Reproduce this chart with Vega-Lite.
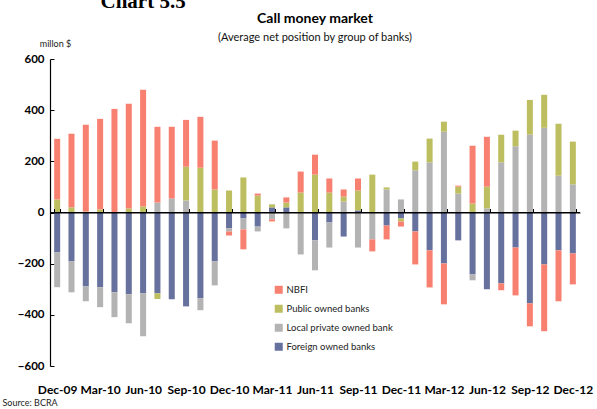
{
  "$schema": "https://vega.github.io/schema/vega-lite/v6.json",
  "width": 530,
  "height": 307,
  "autosize": {"type": "none"},
  "padding": {"left": 50, "top": 59, "right": 17, "bottom": 43},
  "background": "white",
  "config": {"view": {"stroke": null}, "font": "Lato"},
  "title": {
    "text": "Call money market",
    "subtitle": "(Average net position by group of banks)",
    "font": "Lato", "fontSize": 14, "fontWeight": "bold", "color": "black",
    "subtitleFont": "Lato", "subtitleFontSize": 11, "subtitleColor": "#111",
    "subtitlePadding": 6, "anchor": "middle", "offset": -53
  },
  "resolve": {"scale": {"y": "shared"}, "axis": {"y": "independent"}},
  "layer": [
    {
      "data": {"values": [
        {"m": "Dec-09", "Foreign owned banks": -156, "Local private owned bank": -136, "Public owned banks": 51, "NBFI": 237},
        {"m": "Jan-10", "Foreign owned banks": -191, "Local private owned bank": -121, "Public owned banks": 20, "NBFI": 288},
        {"m": "Feb-10", "Foreign owned banks": -289, "Local private owned bank": -58, "Public owned banks": 4, "NBFI": 339},
        {"m": "Mar-10", "Foreign owned banks": -292, "Local private owned bank": -78, "Public owned banks": 12, "NBFI": 354},
        {"m": "Apr-10", "Foreign owned banks": -312, "Local private owned bank": -97, "Public owned banks": 0, "NBFI": 405},
        {"m": "May-10", "Foreign owned banks": -320, "Local private owned bank": -113, "Public owned banks": 16, "NBFI": 409},
        {"m": "Jun-10", "Foreign owned banks": -316, "Local private owned bank": -168, "Public owned banks": 23, "NBFI": 457},
        {"m": "Jul-10", "Foreign owned banks": -316, "Local private owned bank": 39, "Public owned banks": -22, "NBFI": 296},
        {"m": "Aug-10", "Foreign owned banks": -339, "Local private owned bank": 55, "Public owned banks": 0, "NBFI": 280},
        {"m": "Sep-10", "Foreign owned banks": -367, "Local private owned bank": 47, "Public owned banks": 132, "NBFI": 183},
        {"m": "Oct-10", "Foreign owned banks": -335, "Local private owned bank": -47, "Public owned banks": 175, "NBFI": 199},
        {"m": "Nov-10", "Foreign owned banks": -191, "Local private owned bank": -94, "Public owned banks": 90, "NBFI": 191},
        {"m": "Dec-10", "Foreign owned banks": -62, "Local private owned bank": -12, "Public owned banks": 86, "NBFI": -16},
        {"m": "Jan-11", "Foreign owned banks": -23, "Local private owned bank": -43, "Public owned banks": 137, "NBFI": -78},
        {"m": "Feb-11", "Foreign owned banks": -55, "Local private owned bank": -19, "Public owned banks": 66, "NBFI": 8},
        {"m": "Mar-11", "Foreign owned banks": 20, "Local private owned bank": -27, "Public owned banks": 12, "NBFI": -8},
        {"m": "Apr-11", "Foreign owned banks": 20, "Local private owned bank": -62, "Public owned banks": 19, "NBFI": 20},
        {"m": "May-11", "Foreign owned banks": 0, "Local private owned bank": -164, "Public owned banks": 78, "NBFI": 82},
        {"m": "Jun-11", "Foreign owned banks": -109, "Local private owned bank": -117, "Public owned banks": 148, "NBFI": 78},
        {"m": "Jul-11", "Foreign owned banks": -39, "Local private owned bank": -98, "Public owned banks": 78, "NBFI": 55},
        {"m": "Aug-11", "Foreign owned banks": -94, "Local private owned bank": 43, "Public owned banks": 19, "NBFI": 28},
        {"m": "Sep-11", "Foreign owned banks": 8, "Local private owned bank": -137, "Public owned banks": 78, "NBFI": 47},
        {"m": "Oct-11", "Foreign owned banks": 0, "Local private owned bank": -105, "Public owned banks": 148, "NBFI": -47},
        {"m": "Nov-11", "Foreign owned banks": -51, "Local private owned bank": 90, "Public owned banks": 8, "NBFI": -54},
        {"m": "Dec-11", "Foreign owned banks": -23, "Local private owned bank": 51, "Public owned banks": -12, "NBFI": -20},
        {"m": "Jan-12", "Foreign owned banks": -74, "Local private owned bank": 165, "Public owned banks": 34, "NBFI": -129},
        {"m": "Feb-12", "Foreign owned banks": -148, "Local private owned bank": 196, "Public owned banks": 93, "NBFI": -145},
        {"m": "Mar-12", "Foreign owned banks": -199, "Local private owned bank": 316, "Public owned banks": 39, "NBFI": -160},
        {"m": "Apr-12", "Foreign owned banks": -109, "Local private owned bank": 74, "Public owned banks": 27, "NBFI": 4},
        {"m": "May-12", "Foreign owned banks": -242, "Local private owned bank": -23, "Public owned banks": 35, "NBFI": 226},
        {"m": "Jun-12", "Foreign owned banks": -300, "Local private owned bank": 16, "Public owned banks": 85, "NBFI": 195},
        {"m": "Jul-12", "Foreign owned banks": -277, "Local private owned bank": 196, "Public owned banks": 108, "NBFI": -27},
        {"m": "Aug-12", "Foreign owned banks": -137, "Local private owned bank": 259, "Public owned banks": 61, "NBFI": -187},
        {"m": "Sep-12", "Foreign owned banks": -355, "Local private owned bank": 305, "Public owned banks": 135, "NBFI": -90},
        {"m": "Oct-12", "Foreign owned banks": -203, "Local private owned bank": 331, "Public owned banks": 129, "NBFI": -261},
        {"m": "Nov-12", "Foreign owned banks": -148, "Local private owned bank": 144, "Public owned banks": 203, "NBFI": -199},
        {"m": "Dec-12", "Foreign owned banks": -160, "Local private owned bank": 110, "Public owned banks": 167, "NBFI": -121}
      ]},
      "transform": [
        {"fold": ["Foreign owned banks", "Local private owned bank", "Public owned banks", "NBFI"], "as": ["group", "value"]},
        {"window": [{"op": "row_number", "as": "k"}], "groupby": ["m"]}
      ],
      "mark": {"type": "bar"},
      "encoding": {
        "x": {
          "field": "m", "type": "ordinal", "sort": null,
          "scale": {"paddingInner": 0.58, "paddingOuter": 0.29},
          "axis": {
            "values": ["Dec-09", "Mar-10", "Jun-10", "Sep-10", "Dec-10", "Mar-11", "Jun-11", "Sep-11", "Dec-11", "Mar-12", "Jun-12", "Sep-12", "Dec-12"],
            "offset": -153.5, "zindex": 1,
            "domainColor": "black", "domainWidth": 1.2,
            "ticks": true, "tickBand": "extent", "tickSize": -4, "tickColor": "black", "tickWidth": 1,
            "labelAngle": 0, "labelPadding": 181, "labelFont": "Lato", "labelFontWeight": "bold",
            "labelFontSize": 12, "labelColor": "black", "labelOverlap": false, "labelBound": false,
            "labelBaseline": "middle",
            "title": "Source: BCRA", "titleFont": "Lato", "titleFontWeight": "normal", "titleFontSize": 9,
            "titleColor": "#222", "titleAlign": "left", "titleAnchor": "start", "titleBaseline": "middle",
            "titleX": -48, "titleY": 190
          }
        },
        "y": {
          "field": "value", "type": "quantitative", "stack": "zero",
          "scale": {"domain": [-600, 600], "nice": false},
          "axis": {
            "orient": "left",
            "values": [-600, -400, -200, 0, 200, 400, 600],
            "grid": false, "domainColor": "black", "domainWidth": 1.2,
            "ticks": true, "tickSize": -4, "tickColor": "black",
            "labelPadding": 10, "labelFont": "Lato", "labelFontWeight": "bold", "labelFontSize": 11.5, "labelColor": "black",
            "title": "millon $", "titleAngle": 0, "titleFont": "Lato", "titleFontWeight": "normal", "titleFontSize": 9,
            "titleColor": "#222", "titleAlign": "center", "titleBaseline": "middle", "titleX": 5, "titleY": -16
          }
        },
        "order": {"field": "k", "type": "quantitative", "sort": "ascending"},
        "color": {
          "field": "group", "type": "nominal",
          "scale": {
            "domain": ["NBFI", "Public owned banks", "Local private owned bank", "Foreign owned banks"],
            "range": ["#F88070", "#BDBE5F", "#B3B3B3", "#67719E"]
          },
          "legend": {
            "title": null, "orient": "none", "legendX": 224, "legendY": 226, "padding": 0,
            "symbolType": "square", "symbolSize": 64, "symbolStrokeWidth": 0,
            "labelFont": "Lato", "labelFontSize": 9.5, "labelColor": "#222", "labelOffset": 3,
            "rowPadding": 8
          }
        }
      }
    },
    {
      "data": {"values": [{}]},
      "mark": {"type": "rule", "color": "black", "strokeWidth": 1.2},
      "encoding": {
        "y": {
          "datum": 0, "type": "quantitative",
          "axis": {
            "orient": "right", "domain": false, "ticks": false, "labels": false, "grid": false,
            "title": "Chart 5.5", "titleAngle": 0, "titleFont": "Liberation Serif", "titleFontWeight": "bold",
            "titleFontSize": 21, "titleColor": "black", "titleAlign": "left", "titleBaseline": "alphabetic",
            "titleX": -480, "titleY": -52
          }
        }
      }
    }
  ]
}
